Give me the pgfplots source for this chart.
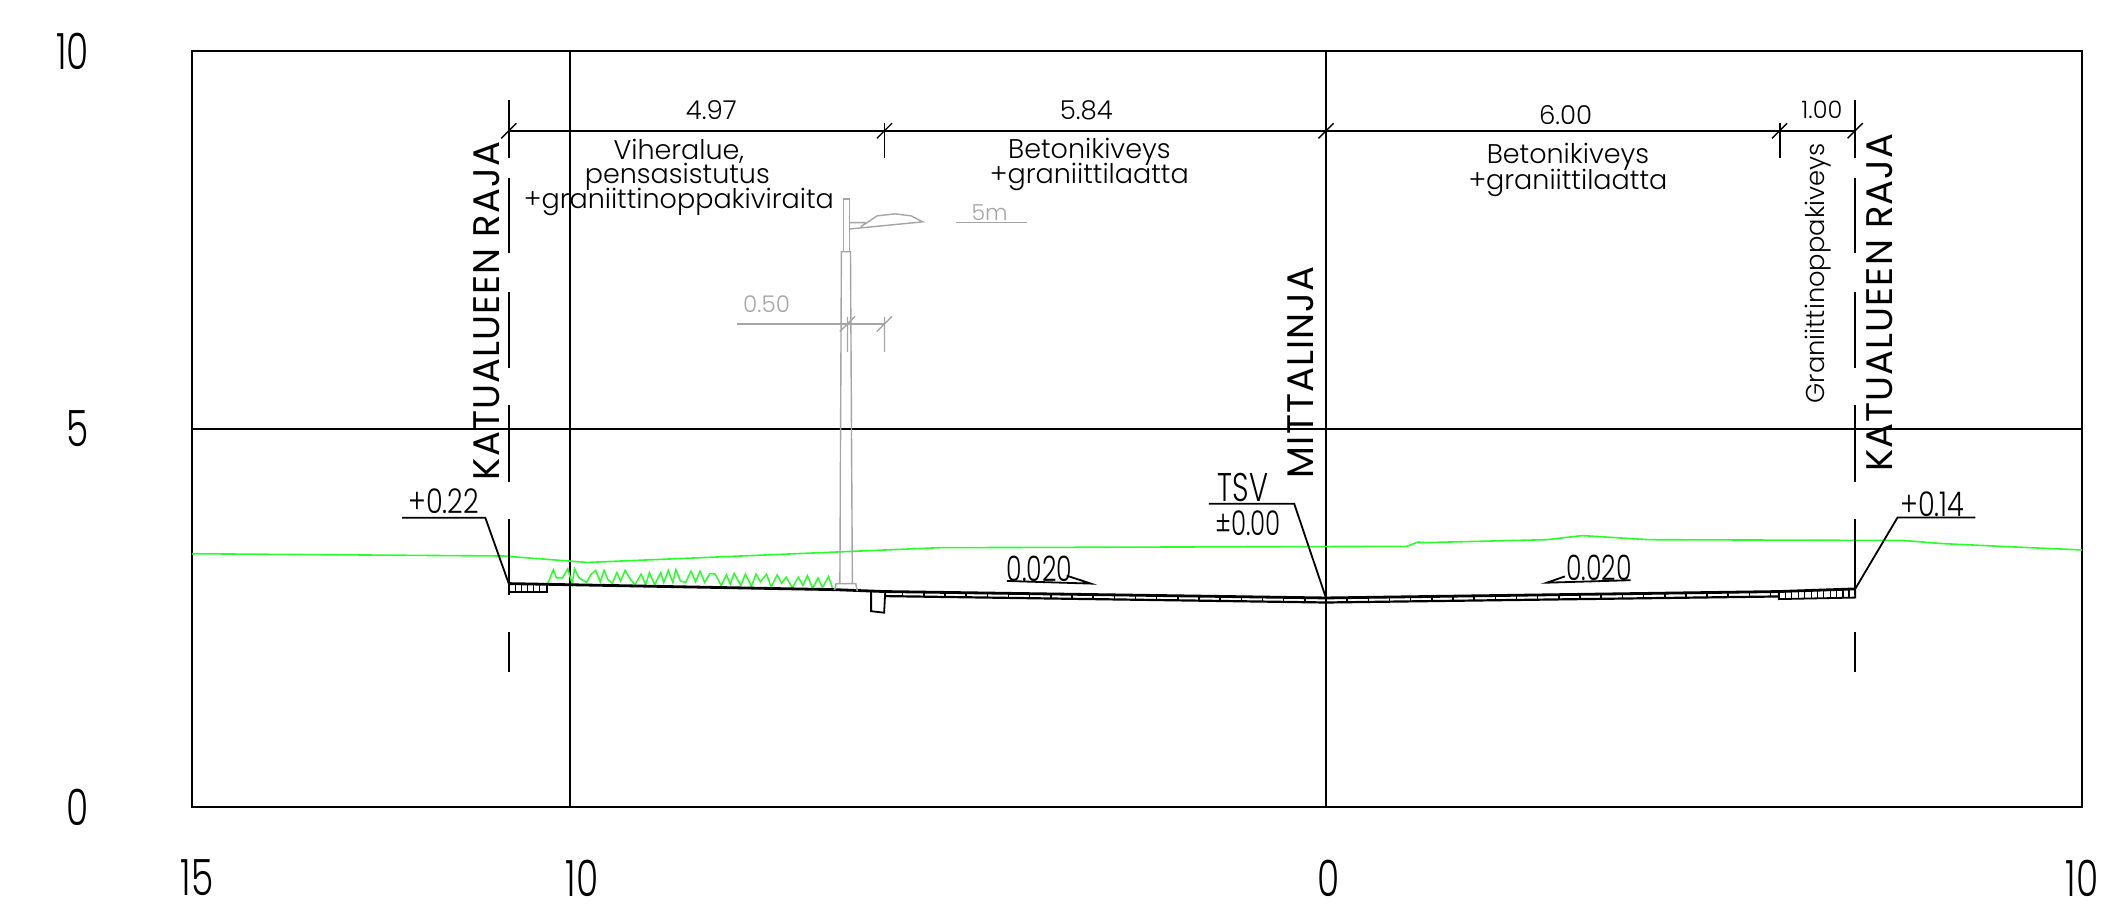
\documentclass[border=0pt]{standalone}
\usepackage{fontspec}
\usepackage{pgfplots}
\pgfplotsset{compat=1.18}
\setmainfont{Poppins Light}
\newfontfamily\narrowfont{Poppins Light}[FakeStretch=0.72]
\newfontfamily\levelfont{Poppins Light}[FakeStretch=0.8]
\newfontfamily\capsfont{Poppins}[LetterSpace=3]
\definecolor{surfgreen}{RGB}{40,255,40}
\definecolor{lampgray}{RGB}{165,165,165}
\newcommand{\fs}[1]{\fontsize{#1}{#1}\selectfont}

\begin{document}
\begin{tikzpicture}
\useasboundingbox (-96pt,-54.5pt) rectangle (958.5pt,403.5pt);
\begin{axis}[
    at={(0,0)}, anchor=south west,
    scale only axis,
    width=945pt, height=378pt,
    xmin=-15, xmax=10, ymin=0, ymax=10,
    xtick={-15,-10,0,10},
    xticklabels={\hspace*{5pt}15,\hspace*{12pt}10,\hspace*{3pt}0,10},
    ytick={0,5,10},
    yticklabels={0,5,10},
    grid=major,
    grid style={black,line width=0.9pt},
    axis line style={line width=0.9pt},
    major tick length=0pt,
    tick label style={font=\narrowfont\fs{25}},
    xticklabel style={yshift=-23pt},
    yticklabel style={xshift=-48pt},
    unbounded coords=jump,
    clip=false,
]

% existing surface
\addplot[surfgreen, line width=0.8pt] coordinates {
    (-15,3.35) (-10.88,3.32) (-9.77,3.235) (-5.11,3.43) (1.07,3.448) (1.22,3.505)
    (1.30,3.497) (2.92,3.536) (3.39,3.59) (4.27,3.536) (7.65,3.525) (8.12,3.486)
    (8.92,3.448) (10,3.40)
};

% planting
\addplot[surfgreen, line width=0.75pt] coordinates {
    (-10.30,2.94) (-10.26,3.04) (-10.22,3.14) (-10.18,3.03) (-10.10,3.03) (-10.03,3.15)
    (-9.97,2.95) (-9.94,3.15) (-9.88,3.03) (-9.78,2.97) (-9.72,3.08) (-9.66,3.13)
    (-9.60,2.98) (-9.55,3.13) (-9.50,3.01) (-9.44,2.96) (-9.38,3.10) (-9.33,2.99)
    (-9.27,3.13) (-9.20,3.01) (-9.14,2.94) (-9.06,3.08) (-9.00,2.94) (-8.95,3.10)
    (-8.88,2.94) (-8.80,3.10) (-8.76,2.97) (-8.70,3.13) (-8.64,2.97) (-8.60,3.14)
    (-8.54,2.99) (-8.47,2.97) (-8.40,3.12) (-8.34,2.98) (-8.28,3.12) (-8.22,2.97)
    (-8.15,3.09) (-8.08,3.08) (-8.00,2.93) (-7.93,3.07) (-7.88,2.95) (-7.83,3.09)
    (-7.74,2.93) (-7.68,3.08) (-7.60,2.92) (-7.54,3.08) (-7.48,2.98) (-7.40,3.08)
    (-7.34,2.91) (-7.26,3.07) (-7.20,2.96) (-7.14,3.04) (-7.06,2.90) (-6.98,3.04)
    (-6.92,2.93) (-6.86,3.06) (-6.79,2.89) (-6.72,3.03) (-6.66,2.90) (-6.58,3.05)
    (-6.52,2.87)
};

% road surface and base of the paving
\addplot[black, line width=1.4pt] coordinates {
    (-10.81,2.955) (-6.50,2.875) (-5.84,2.85) (0,2.765) (5.99,2.85) (7,2.885)
};
\addplot[black, line width=1.1pt] coordinates {
    (-5.84,2.79) (0,2.705) (5.99,2.785)
};

% paving joints
\addplot[draw=none, mark=none, error bars/.cd, y dir=minus, y fixed=0.06, error mark=none,
    error bar style={black, line width=0.8pt}] coordinates {
    (-5.60,2.845) (-5.32,2.841) (-5.04,2.837) (-4.76,2.833) (-4.48,2.829) (-4.20,2.825)
    (-3.92,2.821) (-3.64,2.817) (-3.36,2.813) (-3.08,2.809) (-2.80,2.805) (-2.52,2.801)
    (-2.24,2.797) (-1.96,2.793) (-1.68,2.789) (-1.40,2.785) (-1.12,2.781) (-0.84,2.777)
    (-0.56,2.773) (-0.28,2.769) (0,2.765) (0.28,2.769) (0.56,2.773) (0.84,2.777)
    (1.12,2.781) (1.40,2.785) (1.68,2.789) (1.96,2.793) (2.24,2.797) (2.52,2.801)
    (2.80,2.805) (3.08,2.809) (3.36,2.813) (3.64,2.817) (3.92,2.821) (4.20,2.825)
    (4.48,2.829) (4.76,2.833) (5.04,2.837) (5.32,2.841) (5.60,2.845) (5.88,2.849)
};

% granite edging, left and right
\addplot[black, line width=0.9pt] coordinates {
    (-10.81,2.955) (-10.81,2.84) (-10.30,2.84) (-10.30,2.945)
};
\addplot[draw=none, mark=none, error bars/.cd, y dir=minus, y fixed=0.11, error mark=none,
    error bar style={black, line width=0.7pt}] coordinates {
    (-10.72,2.95) (-10.64,2.95) (-10.56,2.95) (-10.48,2.95) (-10.40,2.95)
};
\addplot[black, line width=0.9pt] coordinates {
    (5.99,2.85) (5.99,2.75) (7,2.77) (7,2.885)
};
\addplot[draw=none, mark=none, error bars/.cd, y dir=minus, y fixed=0.10, error mark=none,
    error bar style={black, line width=0.7pt}] coordinates {
    (6.08,2.855) (6.16,2.857) (6.25,2.859) (6.33,2.861) (6.42,2.864) (6.50,2.866)
    (6.58,2.869) (6.67,2.872) (6.75,2.875) (6.84,2.878) (6.92,2.881)
};

% foundation
\addplot[black, line width=0.9pt] coordinates {
    (-6.017,2.85) (-6.017,2.59) (-5.845,2.57) (-5.83,2.85)
};

% street area boundaries
\addplot[black, line width=0.9pt] coordinates {
    (-10.81,9.35) (-10.81,8.585) (-10.81,nan) (-10.81,8.32) (-10.81,7.33) (-10.81,nan)
    (-10.81,6.81) (-10.81,5.81) (-10.81,nan) (-10.81,5.32) (-10.81,4.30) (-10.81,nan)
    (-10.81,3.81) (-10.81,2.80) (-10.81,nan) (-10.81,2.31) (-10.81,1.79)
};
\addplot[black, line width=0.9pt] coordinates {
    (7,9.35) (7,8.585) (7,nan) (7,8.32) (7,7.33) (7,nan)
    (7,6.81) (7,5.81) (7,nan) (7,5.32) (7,4.30) (7,nan)
    (7,3.81) (7,2.80) (7,nan) (7,2.31) (7,1.79)
};

% dimension line
\addplot[black, line width=0.9pt] coordinates {(-10.81,8.945) (7,8.945)};
\addplot[black, line width=0.7pt] coordinates {
    (-10.91,8.845) (-10.71,9.045) (-10.71,nan)
    (-5.94,8.845) (-5.74,9.045) (-5.74,nan)
    (-0.10,8.845) (0.10,9.045) (0.10,nan)
    (5.90,8.845) (6.10,9.045) (6.10,nan)
    (6.90,8.845) (7.10,9.045)
};
\addplot[black, line width=0.9pt] coordinates {
    (-5.84,9.05) (-5.84,8.585) (-5.84,nan) (6,9.05) (6,8.585)
};

% level leaders
\addplot[black, line width=0.9pt] coordinates {(-12.22,3.826) (-11.12,3.826) (-10.81,2.955)};
\addplot[black, line width=0.9pt] coordinates {(8.59,3.83) (7.56,3.83) (7,2.885)};
\addplot[black, line width=0.9pt] coordinates {(-1.55,4.01) (-0.42,4.01) (0,2.765)};
\addplot[black, line width=0.9pt] coordinates {(-4.22,2.99) (-3.11,2.955) (-3.43,3.06)};
\addplot[black, line width=0.9pt] coordinates {(4.03,3.0) (2.92,2.967) (3.16,3.05)};

% lighting column
\addplot[lampgray, line width=0.7pt] coordinates {
    (-6.38,7.345) (-6.38,8.04) (-6.30,8.04) (-6.30,7.345)
};
\addplot[lampgray, line width=0.7pt] coordinates {
    (-6.43,2.96) (-6.41,7.345) (-6.29,7.345) (-6.265,2.96)
};
\addplot[lampgray, line width=0.7pt] coordinates {
    (-6.50,2.87) (-6.48,2.955) (-6.22,2.955) (-6.20,2.855)
};
\addplot[lampgray, line width=0.7pt] coordinates {
    (-6.307,7.73) (-6.09,7.73) (-6.09,7.73) (-6.09,nan)
    (-6.307,7.645) (-5.335,7.74) (-5.49,7.82) (-5.70,7.845) (-5.935,7.82) (-6.155,7.675)
};
\addplot[lampgray, line width=0.8pt] coordinates {(-4.89,7.73) (-3.95,7.73)};
\addplot[lampgray, line width=0.8pt] coordinates {(-7.79,6.39) (-5.83,6.39)};
\addplot[lampgray, line width=0.7pt] coordinates {
    (-6.43,6.29) (-6.23,6.49) (-6.23,nan) (-5.94,6.29) (-5.74,6.49) (-5.74,nan)
    (-5.84,6.48) (-5.84,6.02) (-5.84,nan) (-6.33,6.48) (-6.33,6.02)
};

% texts
\node[font=\fs{13}] at (axis cs:-8.13,9.22) {4.97};
\node[font=\fs{13}] at (axis cs:-3.17,9.22) {5.84};
\node[font=\fs{13}] at (axis cs:3.17,9.15) {6.00};
\node[font=\fs{12}] at (axis cs:6.56,9.22) {1.00};
\node[font=\fs{13.5}] at (axis cs:-8.56,8.67) {Viheralue,};
\node[font=\fs{13.5}] at (axis cs:-8.58,8.33) {pensasistutus};
\node[font=\fs{13.5}] at (axis cs:-8.56,8.00) {+graniittinoppakiviraita};
\node[font=\fs{13.5}] at (axis cs:-3.13,8.67) {Betonikiveys};
\node[font=\fs{13.5}] at (axis cs:-3.13,8.33) {+graniittilaatta};
\node[font=\fs{13.5}] at (axis cs:3.20,8.60) {Betonikiveys};
\node[font=\fs{13.5}] at (axis cs:3.20,8.26) {+graniittilaatta};
\node[font=\fs{12.9}, rotate=90] at (axis cs:6.51,7.06) {Graniittinoppakiveys};
\node[font=\fs{11}, text=lampgray] at (axis cs:-4.45,7.86) {5m};
\node[font=\fs{11.5}, text=lampgray] at (axis cs:-7.40,6.65) {0.50};
\node[font=\capsfont\fs{18.5}, rotate=90] at (axis cs:-11.10,6.56) {KATUALUEEN RAJA};
\node[font=\capsfont\fs{18.5}, rotate=90] at (axis cs:7.33,6.67) {KATUALUEEN RAJA};
\node[font=\capsfont\fs{18.5}, rotate=90] at (axis cs:-0.34,5.75) {MITTALINJA};
\node[font=\narrowfont\fs{20}] at (axis cs:-1.10,4.22) {TSV};
\node[font=\narrowfont\fs{17}] at (axis cs:-1.03,3.75) {±0.00};
\node[font=\levelfont\fs{17}] at (axis cs:-11.67,4.04) {+0.22};
\node[font=\levelfont\fs{17}] at (axis cs:8.02,4.00) {+0.14};
\node[font=\narrowfont\fs{17.5}] at (axis cs:-3.79,3.15) {0.020};
\node[font=\narrowfont\fs{17.5}] at (axis cs:3.61,3.17) {0.020};
\end{axis}
\end{tikzpicture}
\end{document}
